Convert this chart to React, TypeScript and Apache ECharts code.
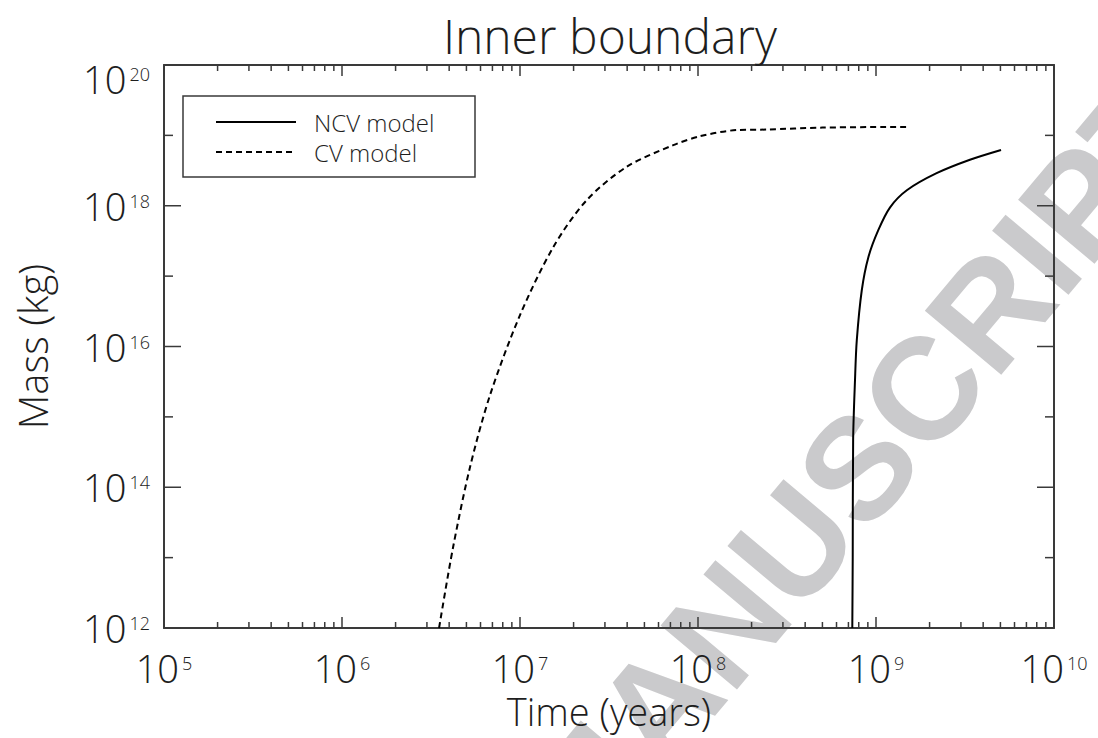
import React, { useEffect, useRef } from "react";
import * as echarts from "echarts";

// ---- data ----
const xRange = [1e5, 1e10];
const yRange = [1e12, 1e20];

const ncvTime = [7.36e8, 7.40e8, 7.44e8, 7.62e8, 7.80e8, 8.32e8, 9.06e8, 1.03e9, 1.20e9, 1.49e9, 2.19e9, 3.37e9, 5.04e9];
const ncvMass = [1e12, 1e13, 4.7e14, 3.3e15, 1.23e16, 6.3e16, 1.86e17, 4.5e17, 9.5e17, 1.66e18, 2.9e18, 4.5e18, 6.2e18];

const cvTime = [3.51e6, 4.2e6, 5.24e6, 6.79e6, 1.0e7, 1.54e7, 2.37e7, 3.97e7, 7.26e7, 1.03e8, 1.65e8, 2.43e8, 5.0e8, 1.49e9];
const cvMass = [1e12, 1.37e13, 1.94e14, 2.05e15, 2.79e16, 2.6e17, 1.2e18, 3.57e18, 7.26e18, 9.75e18, 1.19e19, 1.21e19, 1.29e19, 1.32e19];

const xMajorTicks = [1e5, 1e6, 1e7, 1e8, 1e9, 1e10];
const minorMultipliers = [2, 3, 4, 5, 6, 7, 8, 9];
const xMinorTicks: number[] = [];
xMajorTicks.slice(0, -1).forEach((d) => minorMultipliers.forEach((k) => xMinorTicks.push(d * k)));
const yMajorTicks = [1e12, 1e14, 1e16, 1e18, 1e20];
const yMinorTicks = [1e13, 1e15, 1e17, 1e19];

const seriesNames = ["NCV model", "CV model"];
const titleText = "Inner boundary";
const xName = "Time (years)";
const yName = "Mass (kg)";
const watermark = "MANUSCRIPT";

const FONT = '"Open Sans Light", "Open Sans", Inter, sans-serif';
const W = 300;
const TXT = "#1e1e1e";
const AXIS = "#3a3a3a";

const expLabel = (v: number) => {
  const e = Math.round(Math.log10(v));
  return `{b|10}{e|${e}}`;
};
const richLabel = {
  b: { fontFamily: FONT, fontSize: 38, fontWeight: W, color: TXT, lineHeight: 28 },
  e: { fontFamily: FONT, fontSize: 18, fontWeight: W, color: TXT, lineHeight: 14, verticalAlign: "top", padding: [0, 0, 0, 3] },
};

export default function App() {
  const ref = useRef<HTMLDivElement>(null);
  useEffect(() => {
    const chart = echarts.init(ref.current!, null, { renderer: "svg" });

    const tickSeries = (vals: number[], dir: "x" | "y", major: boolean) => ({
      type: "custom",
      silent: true,
      clip: false,
      z: 5,
      data: vals.map((v) => (dir === "x" ? [v, yRange[0]] : [xRange[0], v])),
      renderItem: (params: any, api: any) => {
        const cs = params.coordSys;
        const p = api.coord([api.value(0), api.value(1)]);
        const style = { stroke: AXIS, lineWidth: 1.5 };
        if (dir === "x") {
          const len = major ? 11 : 6;
          const b = cs.y + cs.height;
          return {
            type: "group",
            children: [
              { type: "line", shape: { x1: p[0], y1: b, x2: p[0], y2: b - len }, style },
              { type: "line", shape: { x1: p[0], y1: cs.y, x2: p[0], y2: cs.y + len }, style },
            ],
          };
        }
        const len = major ? 17 : 9;
        const r = cs.x + cs.width;
        return {
          type: "group",
          children: [
            { type: "line", shape: { x1: cs.x, y1: p[1], x2: cs.x + len, y2: p[1] }, style },
            { type: "line", shape: { x1: r, y1: p[1], x2: r - len, y2: p[1] }, style },
          ],
        };
      },
    });

    const axisLine = { show: true, onZero: false, lineStyle: { color: AXIS, width: 2 } };
    const rot = (50 * Math.PI) / 180;

    chart.setOption({
      animation: false,
      backgroundColor: "#fff",
      title: {
        text: titleText,
        left: 605,
        top: 5,
        textAlign: "center",
        textStyle: { fontFamily: FONT, fontSize: 48, fontWeight: W, color: TXT, lineHeight: 50 },
      },
      legend: {
        data: seriesNames,
        orient: "vertical",
        left: 215,
        top: 110,
        padding: 0,
        itemWidth: 80,
        itemHeight: 24,
        itemGap: 6,
        itemStyle: { opacity: 0 },
        textStyle: { fontFamily: FONT, fontSize: 24, fontWeight: W, color: TXT, lineHeight: 24, padding: [0, 0, 0, 13] },
        selectedMode: false,
      },
      grid: { left: 164, right: 44, top: 65, bottom: 110, containLabel: false, outerBoundsMode: "none" },
      xAxis: [
        {
          type: "log",
          logBase: 10,
          min: xRange[0],
          max: xRange[1],
          position: "bottom",
          axisLine,
          axisTick: { show: false },
          splitLine: { show: false },
          axisLabel: { formatter: expLabel, rich: richLabel, margin: 26 },
          name: xName,
          nameLocation: "middle",
          nameGap: 63,
          nameTextStyle: { fontFamily: FONT, fontSize: 38, fontWeight: W, color: TXT, lineHeight: 38 },
        },
        {
          type: "log",
          logBase: 10,
          min: xRange[0],
          max: xRange[1],
          position: "top",
          axisLine,
          axisTick: { show: false },
          splitLine: { show: false },
          axisLabel: { show: false },
        },
      ],
      yAxis: [
        {
          type: "log",
          logBase: 10,
          min: yRange[0],
          max: yRange[1],
          position: "left",
          axisLine,
          axisTick: { show: false },
          splitLine: { show: false },
          axisLabel: {
            formatter: (v: number) => (Math.round(Math.log10(v)) % 2 === 0 ? expLabel(v) : ""),
            rich: richLabel,
            margin: 14,
            verticalAlignMinLabel: "bottom",
            verticalAlignMaxLabel: "top",
          },
          name: yName,
          nameLocation: "middle",
          nameGap: 112,
          nameTextStyle: { fontFamily: FONT, fontSize: 40, fontWeight: W, color: TXT, lineHeight: 40 },
        },
        {
          type: "log",
          logBase: 10,
          min: yRange[0],
          max: yRange[1],
          position: "right",
          axisLine,
          axisTick: { show: false },
          splitLine: { show: false },
          axisLabel: { show: false },
        },
      ],
      graphic: [
        {
          type: "rect",
          silent: true,
          shape: { x: 183, y: 96, width: 292, height: 81 },
          style: { fill: "none", stroke: AXIS, lineWidth: 1.5 },
          z: 10,
        },
        {
          type: "text",
          silent: true,
          x: 492,
          y: 791,
          rotation: rot,
          z: -10,
          style: {
            text: watermark,
            fontFamily: '"Liberation Sans", Arial, sans-serif',
            fontWeight: "bold",
            fontSize: 145,
            fill: "#cacacc",
            align: "left",
            verticalAlign: "top",
          },
        },
      ],
      series: [
        {
          name: seriesNames[0],
          type: "line",
          data: ncvTime.map((t, i) => [t, ncvMass[i]]),
          symbol: "none",
          smooth: 0.3,
          lineStyle: { color: "#000", width: 2, type: "solid" },
          z: 4,
        },
        {
          name: seriesNames[1],
          type: "line",
          data: cvTime.map((t, i) => [t, cvMass[i]]),
          symbol: "none",
          smooth: 0.3,
          lineStyle: { color: "#000", width: 2, type: [6, 4] },
          z: 4,
        },
        tickSeries(xMajorTicks, "x", true),
        tickSeries(xMinorTicks, "x", false),
        tickSeries(yMajorTicks, "y", true),
        tickSeries(yMinorTicks, "y", false),
      ],
    });
    return () => chart.dispose();
  }, []);
  return <div ref={ref} style={{ width: 1098, height: 738, position: "absolute", left: 0, top: 0 }} />;
}
